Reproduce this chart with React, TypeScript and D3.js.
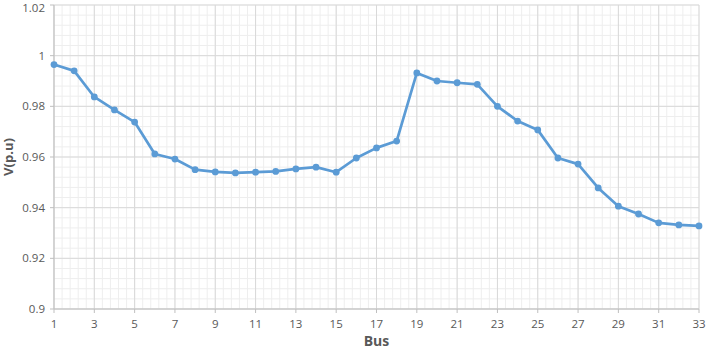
import React from "react";
import * as d3 from "d3";

const buses: number[] = Array.from({ length: 33 }, (_, i) => i + 1);
const voltages: number[] = [
  0.9965, 0.994, 0.9837, 0.9786, 0.9738, 0.9612, 0.9592, 0.955, 0.9541, 0.9537,
  0.954, 0.9543, 0.9553, 0.956, 0.954, 0.9596, 0.9636, 0.9663, 0.9932, 0.99,
  0.9893, 0.9887, 0.98, 0.9742, 0.9707, 0.9596, 0.9572, 0.9478, 0.9406, 0.9375,
  0.934, 0.9332, 0.9328,
];
const xTicks: number[] = [1, 3, 5, 7, 9, 11, 13, 15, 17, 19, 21, 23, 25, 27, 29, 31, 33];
const yTicks: number[] = [0.9, 0.92, 0.94, 0.96, 0.98, 1, 1.02];
const xLabel = "Bus";
const yLabel = "V(p.u)";

const W = 709;
const H = 351;
const m = { left: 54, right: 10, top: 5, bottom: 42 };

export default function App() {
  const x = d3.scaleLinear().domain([1, 33]).range([m.left, W - m.right]);
  const y = d3.scaleLinear().domain([0.9, 1.02]).range([H - m.bottom, m.top]);

  const minorX: number[] = [];
  for (let v = 1; v <= 33.0001; v += 0.4) minorX.push(v);
  const minorY: number[] = [];
  for (let v = 0.9; v <= 1.02001; v += 0.004) minorY.push(v);

  const line = d3
    .line<number>()
    .x((_, i) => x(buses[i]))
    .y((d) => y(d));

  const font = "'Open Sans', 'Liberation Sans', sans-serif";
  const grey = "#595959";

  return (
    <svg
      width={W}
      height={H}
      style={{ position: "absolute", left: 0, top: 0, background: "#fff" }}
      fontFamily={font}
    >
      <rect x={0} y={0} width={W} height={H} fill="#fff" />
      <g>
        {minorX.map((v, i) => (
          <line key={"mx" + i} x1={x(v)} x2={x(v)} y1={y(0.9)} y2={y(1.02)} stroke="#eeeeee" strokeWidth={1} />
        ))}
        {minorY.map((v, i) => (
          <line key={"my" + i} x1={x(1)} x2={x(33)} y1={y(v)} y2={y(v)} stroke="#eeeeee" strokeWidth={1} />
        ))}
        {xTicks.map((v) => (
          <line key={"gx" + v} x1={x(v)} x2={x(v)} y1={y(0.9)} y2={y(1.02)} stroke="#d9d9d9" strokeWidth={1} />
        ))}
        {yTicks.map((v) => (
          <line key={"gy" + v} x1={x(1)} x2={x(33)} y1={y(v)} y2={y(v)} stroke="#d9d9d9" strokeWidth={1} />
        ))}
      </g>
      <line x1={x(1)} x2={x(33)} y1={y(0.9)} y2={y(0.9)} stroke="#bfbfbf" strokeWidth={1} />
      <line x1={x(1)} x2={x(1)} y1={y(0.9)} y2={y(1.02)} stroke="#bfbfbf" strokeWidth={1} />
      {xTicks.map((v) => (
        <line key={"tx" + v} x1={x(v)} x2={x(v)} y1={y(0.9)} y2={y(0.9) + 4} stroke="#bfbfbf" />
      ))}
      {yTicks.map((v) => (
        <line key={"ty" + v} x1={x(1) - 4} x2={x(1)} y1={y(v)} y2={y(v)} stroke="#bfbfbf" />
      ))}
      {xTicks.map((v) => (
        <text key={"lx" + v} x={x(v)} y={y(0.9) + 19} textAnchor="middle" fontSize={11.5} fill={grey}>
          {v}
        </text>
      ))}
      {yTicks.map((v) => (
        <text
          key={"ly" + v}
          x={x(1) - 9}
          y={Math.max(y(v) + 4, 12)}
          textAnchor="end"
          fontSize={11.5}
          fill={grey}
        >
          {d3.format("~g")(v)}
        </text>
      ))}
      <text x={(x(1) + x(33)) / 2} y={346} textAnchor="middle" fontSize={14} fontWeight="bold" fill={grey}>
        {xLabel}
      </text>
      <text
        transform={`translate(13, ${y(0.96)}) rotate(-90)`}
        textAnchor="middle"
        fontSize={13}
        fontWeight="bold"
        fill={grey}
      >
        {yLabel}
      </text>
      <path d={line(voltages) || ""} fill="none" stroke="#5b9bd5" strokeWidth={2.7} strokeLinejoin="round" />
      {voltages.map((v, i) => (
        <circle key={"c" + i} cx={x(buses[i])} cy={y(v)} r={3.4} fill="#5b9bd5" />
      ))}
    </svg>
  );
}
